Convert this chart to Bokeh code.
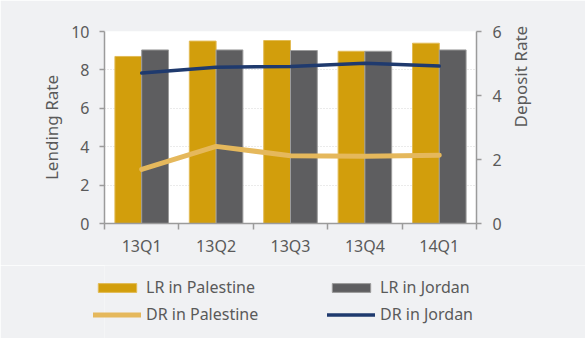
import math
from bokeh.plotting import figure
from bokeh.layouts import column
from bokeh.models import (Range1d, LinearAxis, FixedTicker, Legend, LegendItem,
                          ColumnDataSource)
from bokeh.embed import file_html
from bokeh.resources import INLINE

quarters = ["13Q1", "13Q2", "13Q3", "13Q4", "14Q1"]
lr_palestine = [8.70, 9.50, 9.53, 8.97, 9.39]
lr_jordan = [9.04, 9.04, 9.01, 8.97, 9.04]
dr_palestine = [1.69, 2.41, 2.12, 2.10, 2.13]
dr_jordan = [4.70, 4.88, 4.91, 5.01, 4.92]

FONT = "Noto Sans"
TEXT = "#5a5a5a"
AXIS = "#9b9b9b"
BG = "#f0f1f3"

GOLD, GOLD_EDGE = "#d29e0c", "#e2bb55"
GREY, GREY_EDGE = "#5e5e60", "#9c9c9c"
LIGHT_GOLD, NAVY = "#e5b85c", "#1f3a6e"

pos = [i + 0.5 for i in range(len(quarters))]
src = ColumnDataSource(dict(
    x_pal=[p - 0.18 for p in pos],
    x_jor=[p + 0.18 for p in pos],
    x=pos,
    lr_pal=lr_palestine,
    lr_jor=lr_jordan,
    dr_pal=dr_palestine,
    dr_jor=dr_jordan,
))

p = figure(frame_width=372, frame_height=192, output_backend="svg",
           toolbar_location=None,
           x_range=Range1d(0, 5), y_range=Range1d(0, 10),
           min_border_left=104, min_border_right=109,
           min_border_top=31, min_border_bottom=42,
           background_fill_color="white", border_fill_color=BG,
           outline_line_color=None)
p.extra_y_ranges = {"dep": Range1d(0, 6)}

p.vbar(x="x_pal", top="lr_pal", width=0.36, source=src,
       fill_color=GOLD, line_color=GOLD_EDGE, line_width=1)
p.vbar(x="x_jor", top="lr_jor", width=0.36, source=src,
       fill_color=GREY, line_color=GREY_EDGE, line_width=1)
p.line(x="x", y="dr_pal", source=src, y_range_name="dep",
       line_color=LIGHT_GOLD, line_width=5, line_cap="round")
p.line(x="x", y="dr_jor", source=src, y_range_name="dep",
       line_color=NAVY, line_width=3.5, line_cap="round")

# x axis: labels at category centres, ticks at category boundaries
xa = p.xaxis[0]
xa.ticker = FixedTicker(ticks=pos, minor_ticks=list(range(6)))
xa.major_label_overrides = {p_: q for p_, q in zip(pos, quarters)}
xa.major_tick_out = 0
xa.major_tick_in = 0
xa.minor_tick_out = 6
xa.minor_tick_in = 0
xa.major_label_standoff = 5

ya = p.yaxis[0]
ya.ticker = FixedTicker(ticks=[0, 2, 4, 6, 8, 10])
ya.axis_label = "Lending Rate"
ya.minor_tick_out = 0
ya.major_tick_in = 0
ya.major_tick_out = 5
ya.major_label_standoff = 10
ya.axis_label_standoff = 5

ra = LinearAxis(y_range_name="dep", ticker=FixedTicker(ticks=[0, 2, 4, 6]),
                axis_label="Deposit Rate")
ra.minor_tick_out = 0
ra.major_tick_in = 0
ra.major_tick_out = 5
ra.major_label_standoff = 11
ra.axis_label_standoff = 16
try:
    ra.axis_label_orientation = math.pi / 2
except Exception:
    pass
p.add_layout(ra, "right")

for ax in [xa, ya, ra]:
    ax.axis_line_color = AXIS
    ax.axis_line_width = 1.5
    ax.major_tick_line_color = AXIS
    ax.minor_tick_line_color = AXIS
    ax.major_tick_line_width = 1.5
    ax.minor_tick_line_width = 1.5
    ax.major_label_text_font = FONT
    ax.major_label_text_font_size = "16px"
    ax.major_label_text_color = TEXT
    ax.axis_label_text_font = FONT
    ax.axis_label_text_font_size = "17px"
    ax.axis_label_text_color = TEXT
    ax.axis_label_text_font_style = "normal"

p.xgrid.grid_line_color = None
p.ygrid.ticker = FixedTicker(ticks=[2, 4, 6, 8, 10])
p.ygrid.grid_line_color = "#d6d6d6"
p.ygrid.grid_line_dash = "1 2"
p.ygrid.grid_line_width = 1

# legend strip underneath the chart (its frame spans the full width)
lg = figure(frame_width=585, frame_height=73, output_backend="svg",
            toolbar_location=None, x_axis_type=None, y_axis_type=None,
            x_range=Range1d(0, 1), y_range=Range1d(0, 1),
            min_border_left=0, min_border_right=0,
            min_border_top=0, min_border_bottom=0,
            background_fill_color=BG, border_fill_color=BG,
            outline_line_color=None)
lg.grid.visible = False
# legend key renderers: a single undrawn (NaN) row each
nan = float("nan")
key_src = ColumnDataSource(dict(x=[nan], y=[nan], top=[nan]))
k1 = lg.vbar(x="x", top="top", width=0.1, source=key_src,
             fill_color=GOLD, line_color=GOLD_EDGE)
k2 = lg.vbar(x="x", top="top", width=0.1, source=key_src,
             fill_color=GREY, line_color=GREY_EDGE)
k3 = lg.line(x="x", y="y", source=key_src, line_color=LIGHT_GOLD,
             line_width=5, line_cap="round")
k4 = lg.line(x="x", y="y", source=key_src, line_color=NAVY,
             line_width=3.5, line_cap="round")

legend = Legend(items=[
    LegendItem(label="LR in Palestine", renderers=[k1]),
    LegendItem(label="DR in Palestine", renderers=[k3]),
    LegendItem(label="LR in Jordan", renderers=[k2]),
    LegendItem(label="DR in Jordan", renderers=[k4]),
], ncols=2, location=(93, 13))
legend.background_fill_alpha = 0
legend.border_line_color = None
legend.label_text_font = FONT
legend.label_text_font_size = "16px"
legend.label_text_color = TEXT
legend.glyph_width = 48
legend.glyph_height = 11
legend.label_standoff = 5
legend.label_width = 176
legend.spacing = 5
legend.padding = 0
legend.margin = 0
lg.add_layout(legend, "center")

layout = column(p, lg, spacing=0)
open("out.html", "w").write(file_html(layout, INLINE))
